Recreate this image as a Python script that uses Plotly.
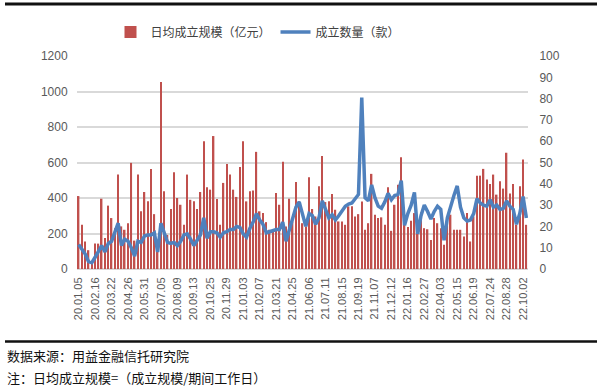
import plotly.graph_objects as go

dates = [
    "20.01.05", "20.01.12", "20.01.19", "20.02.02", "20.02.09",
    "20.02.16", "20.02.23", "20.03.01", "20.03.08", "20.03.15",
    "20.03.22", "20.03.29", "20.04.05", "20.04.12", "20.04.19",
    "20.04.26", "20.05.03", "20.05.10", "20.05.17", "20.05.24",
    "20.05.31", "20.06.07", "20.06.14", "20.06.21", "20.06.28",
    "20.07.05", "20.07.12", "20.07.19", "20.07.26", "20.08.02",
    "20.08.09", "20.08.16", "20.08.23", "20.08.30", "20.09.06",
    "20.09.13", "20.09.20", "20.09.27", "20.10.11", "20.10.18",
    "20.10.25", "20.11.01", "20.11.08", "20.11.15", "20.11.22",
    "20.11.29", "20.12.06", "20.12.13", "20.12.20", "20.12.27",
    "21.01.03", "21.01.10", "21.01.17", "21.01.24", "21.01.31",
    "21.02.07", "21.02.21", "21.02.28", "21.03.07", "21.03.14",
    "21.03.21", "21.03.28", "21.04.04", "21.04.11", "21.04.18",
    "21.04.25", "21.05.09", "21.05.16", "21.05.23", "21.05.30",
    "21.06.06", "21.06.13", "21.06.20", "21.06.27", "21.07.04",
    "21.07.11", "21.07.18", "21.07.25", "21.08.01", "21.08.08",
    "21.08.15", "21.08.22", "21.08.29", "21.09.05", "21.09.12",
    "21.09.19", "21.09.26", "21.10.10", "21.10.17", "21.10.24",
    "21.11.07", "21.11.14", "21.11.21", "21.11.28", "21.12.05",
    "21.12.12", "21.12.19", "21.12.26", "22.01.02", "22.01.09",
    "22.01.16", "22.01.23", "22.02.06", "22.02.13", "22.02.20",
    "22.02.27", "22.03.06", "22.03.13", "22.03.20", "22.03.27",
    "22.04.03", "22.04.10", "22.04.17", "22.04.24", "22.05.08",
    "22.05.15", "22.05.22", "22.05.29", "22.06.05", "22.06.12",
    "22.06.19", "22.06.26", "22.07.03", "22.07.10", "22.07.17",
    "22.07.24", "22.07.31", "22.08.07", "22.08.14", "22.08.21",
    "22.08.28", "22.09.04", "22.09.11", "22.09.18", "22.09.25",
    "22.10.02", "22.10.09",
]

tick_labels = dates[::5]

daily_scale = [
    411, 249, 155, 106, 30, 143, 143, 396, 174, 357,
    287, 230, 532, 240, 221, 258, 598, 160, 532, 325,
    434, 381, 564, 309, 120, 1053, 438, 192, 338, 545,
    400, 362, 249, 532, 390, 381, 338, 434, 720, 460,
    447, 749, 394, 249, 485, 592, 532, 447, 406, 574,
    720, 381, 438, 442, 660, 325, 315, 264, 221, 221,
    428, 362, 604, 240, 396, 268, 490, 381, 258, 240,
    517, 338, 296, 466, 636, 377, 381, 423, 334, 268,
    268, 249, 353, 353, 296, 309, 380, 221, 258, 536,
    306, 287, 291, 249, 460, 215, 362, 475, 630, 277,
    236, 272, 315, 230, 319, 230, 224, 164, 287, 258,
    230, 136, 268, 306, 221, 221, 221, 183, 315, 155,
    296, 526, 526, 564, 504, 479, 532, 419, 494, 453,
    655, 425, 479, 249, 466, 617, 249,
]

count = [
    11.5, 9.5, 7, 3.5, 3, 5.5, 8.5, 11, 8, 12,
    13, 17, 21.5, 11, 14, 13, 10, 6, 13, 12.5,
    15.5, 16, 16, 17, 8, 21.5, 17, 12.5, 12, 12.5,
    11, 13, 16, 16.5, 14, 11, 13.5, 16, 24, 14.5,
    17.5, 17.5, 17, 15, 17, 17.5, 18.5, 18.5, 20, 19.5,
    16.5, 15, 19, 22, 26, 23, 21, 17, 17.5, 18,
    18.5, 18.5, 22, 13, 18, 24, 29, 31.5, 25, 20,
    26, 25, 21, 24, 32, 28, 24, 25.5, 23, 25,
    27, 29.5, 30.5, 31, 33, 35, 80.5, 33.5, 32, 39.5,
    33.5, 29.5, 28.5, 31.5, 35.5, 32.5, 34.5, 35, 41.5, 20.5,
    26, 30, 36, 16.5, 25, 30, 27, 23.5, 27, 29.5,
    28, 13.5, 24, 30, 34.5, 39, 29, 24, 22.5, 23,
    26, 33, 31, 30, 29.5, 32.5, 29, 30, 28, 28.5,
    32, 29.5, 28, 21, 26, 34, 24,
]

# plot area in pixels
L, R, T, B = 77, 528, 56, 269
W, H = R - L, B - T


def px_x(px):
    return (px - L) / W


def px_y(py):
    return (B - py) / H


fig = go.Figure()
fig.add_trace(go.Bar(
    x=dates, y=daily_scale, name="日均成立规模（亿元）",
    marker=dict(color="#C0504D", line=dict(width=0)),
))
fig.add_trace(go.Scatter(
    x=dates, y=count, name="成立数量（款）", yaxis="y2",
    mode="lines", line=dict(color="#4F81BD", width=3.5),
))

tickfont = dict(family="Liberation Sans, Arial, sans-serif", size=12, color="#595959")

fig.update_layout(
    width=600, height=387,
    margin=dict(l=L, r=600 - R, t=T, b=387 - B),
    paper_bgcolor="white", plot_bgcolor="white",
    bargap=0.55,
    showlegend=True,
    legend=dict(
        orientation="h", x=px_x(258), xanchor="center", y=px_y(32), yanchor="middle",
        font=dict(family="Noto Sans CJK SC", size=12, color="#404040"),
        bgcolor="rgba(0,0,0,0)", itemwidth=30, tracegroupgap=0,
    ),
    xaxis=dict(
        type="category", tickmode="array", tickvals=tick_labels, ticktext=tick_labels,
        tickangle=-90, tickfont=dict(family="Liberation Sans, Arial, sans-serif", size=11, color="#595959"),
        ticks="outside", ticklen=3, tickcolor="rgba(0,0,0,0)",
        showgrid=False, showline=False, zeroline=False,
    ),
    yaxis=dict(
        range=[0, 1200], dtick=200, tickfont=tickfont,
        showgrid=True, gridcolor="#D9D9D9", gridwidth=1.5,
        zeroline=True, zerolinecolor="#D9D9D9", zerolinewidth=1.5,
        ticks="outside", ticklen=6, tickcolor="rgba(0,0,0,0)",
        showline=False,
    ),
    yaxis2=dict(
        range=[0, 100], dtick=10, overlaying="y", side="right",
        tickfont=tickfont, showgrid=False, zeroline=False, showline=False,
        ticks="outside", ticklen=8, tickcolor="rgba(0,0,0,0)",
    ),
    shapes=[
        dict(type="line", xref="paper", yref="paper",
             x0=px_x(5), x1=px_x(597), y0=px_y(4), y1=px_y(4),
             line=dict(color="#111111", width=3)),
        dict(type="line", xref="paper", yref="paper",
             x0=px_x(5), x1=px_x(597), y0=px_y(341.5), y1=px_y(341.5),
             line=dict(color="#111111", width=2.5)),
    ],
    annotations=[
        dict(text="数据来源：用益金融信托研究院", xref="paper", yref="paper",
             x=px_x(5), y=px_y(355), xanchor="left", yanchor="middle", showarrow=False,
             font=dict(family="Noto Sans CJK SC", size=13, color="#111111")),
        dict(text="注：日均成立规模=（成立规模/期间工作日）", xref="paper", yref="paper",
             x=px_x(5), y=px_y(377), xanchor="left", yanchor="middle", showarrow=False,
             font=dict(family="Noto Sans CJK SC", size=13, color="#111111")),
    ],
)

fig.write_html(
    "out.html",
    config={"displayModeBar": False},
    post_script="document.body.style.margin='0';document.body.style.overflow='hidden';",
)
